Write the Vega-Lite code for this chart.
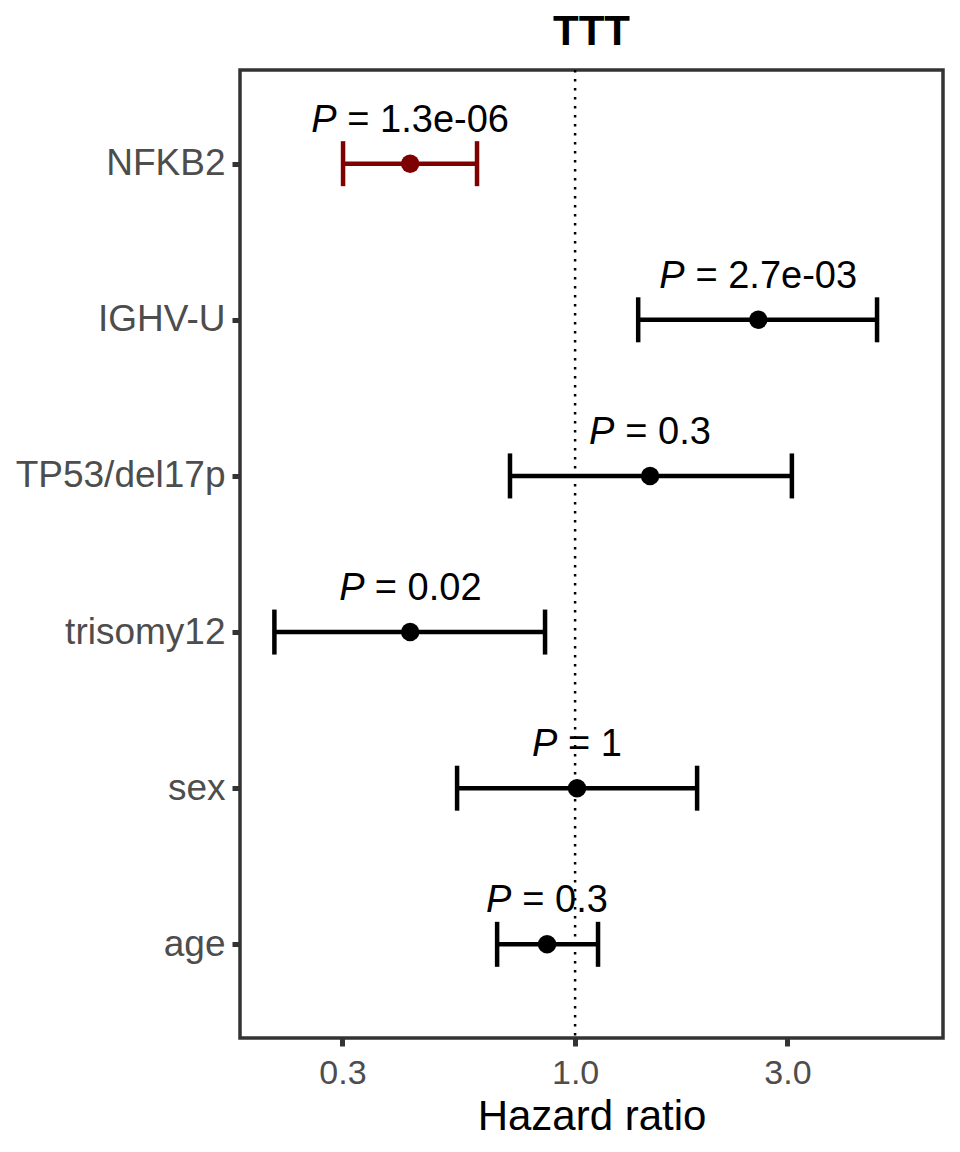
{
  "$schema": "https://vega.github.io/schema/vega-lite/v6.json",
  "autosize": "none",
  "width": 703,
  "height": 968,
  "padding": {"left": 240, "top": 70, "right": 17, "bottom": 114},
  "background": "white",
  "config": {
    "font": "Liberation Sans",
    "view": {"stroke": "#333333", "strokeWidth": 3.5},
    "axis": {"grid": false, "domain": false}
  },
  "title": {
    "text": "TTT",
    "fontSize": 42,
    "fontWeight": "bold",
    "color": "black",
    "anchor": "middle",
    "offset": 15
  },
  "datasets": {
    "hr": [
      {"term": "NFKB2", "hr": 0.426, "low": 0.301, "high": 0.602, "ptext": "= 1.3e-06", "highlight": "yes"},
      {"term": "IGHV-U", "hr": 2.58, "low": 1.386, "high": 4.77, "ptext": "= 2.7e-03", "highlight": "no"},
      {"term": "TP53/del17p", "hr": 1.474, "low": 0.714, "high": 3.07, "ptext": "= 0.3", "highlight": "no"},
      {"term": "trisomy12", "hr": 0.426, "low": 0.211, "high": 0.856, "ptext": "= 0.02", "highlight": "no"},
      {"term": "sex", "hr": 1.01, "low": 0.543, "high": 1.88, "ptext": "= 1", "highlight": "no"},
      {"term": "age", "hr": 0.865, "low": 0.668, "high": 1.126, "ptext": "= 0.3", "highlight": "no"}
    ],
    "ref": [{"ref": 1}]
  },
  "encoding": {
    "y": {
      "field": "term",
      "type": "nominal",
      "sort": ["NFKB2", "IGHV-U", "TP53/del17p", "trisomy12", "sex", "age"],
      "scale": {"type": "point", "padding": 0.6},
      "axis": {
        "title": null,
        "labelFontSize": 37,
        "labelColor": "#4D4D4D",
        "labelLimit": 400,
        "tickColor": "#333333",
        "tickWidth": 5,
        "tickSize": 8,
        "labelPadding": 7
      }
    }
  },
  "layer": [
    {
      "data": {"name": "ref"},
      "mark": {"type": "rule", "color": "black", "strokeWidth": 2.5, "strokeDash": [2.5, 6.5]},
      "encoding": {
        "x": {"field": "ref", "type": "quantitative"},
        "y": null
      }
    },
    {
      "data": {"name": "hr"},
      "mark": {"type": "rule", "strokeWidth": 4.5, "opacity": 1},
      "encoding": {
        "x": {
          "field": "low",
          "type": "quantitative",
          "scale": {"type": "log", "domain": [0.1766, 6.71], "nice": false, "zero": false},
          "axis": {
            "title": "Hazard ratio",
            "titleFontSize": 42,
            "titleFontWeight": "normal",
            "titleColor": "black",
            "titlePadding": 6,
            "values": [0.3, 1, 3],
            "format": ".1f",
            "labelFontSize": 34,
            "labelColor": "#4D4D4D",
            "tickColor": "#333333",
            "tickWidth": 5,
            "tickSize": 8,
            "labelPadding": 10
          }
        },
        "x2": {"field": "high"},
        "color": {
          "field": "highlight",
          "type": "nominal",
          "scale": {"domain": ["yes", "no"], "range": ["#7F0000", "black"]},
          "legend": null
        }
      }
    },
    {
      "data": {"name": "hr"},
      "mark": {"type": "tick", "size": 45, "thickness": 4.5, "orient": "vertical", "opacity": 1},
      "encoding": {
        "x": {"field": "low", "type": "quantitative"},
        "color": {"field": "highlight", "type": "nominal", "legend": null}
      }
    },
    {
      "data": {"name": "hr"},
      "mark": {"type": "tick", "size": 45, "thickness": 4.5, "orient": "vertical", "opacity": 1},
      "encoding": {
        "x": {"field": "high", "type": "quantitative"},
        "color": {"field": "highlight", "type": "nominal", "legend": null}
      }
    },
    {
      "data": {"name": "hr"},
      "mark": {"type": "circle", "size": 340, "opacity": 1},
      "encoding": {
        "x": {"field": "hr", "type": "quantitative"},
        "color": {"field": "highlight", "type": "nominal", "legend": null}
      }
    },
    {
      "data": {"name": "hr"},
      "mark": {"type": "text", "fontSize": 38, "color": "black", "baseline": "alphabetic", "align": "center", "dx": 18, "dy": -32},
      "encoding": {
        "x": {"field": "hr", "type": "quantitative"},
        "text": {"field": "ptext"}
      }
    },
    {
      "data": {"name": "hr"},
      "transform": [{"filter": {"field": "term", "oneOf": ["NFKB2", "IGHV-U"]}}],
      "mark": {"type": "text", "text": "P", "fontSize": 38, "fontStyle": "italic", "color": "black", "baseline": "alphabetic", "align": "left", "dx": -99, "dy": -32},
      "encoding": {
        "x": {"field": "hr", "type": "quantitative"}
      }
    },
    {
      "data": {"name": "hr"},
      "transform": [{"filter": {"field": "term", "oneOf": ["TP53/del17p", "age"]}}],
      "mark": {"type": "text", "text": "P", "fontSize": 38, "fontStyle": "italic", "color": "black", "baseline": "alphabetic", "align": "left", "dx": -61, "dy": -32},
      "encoding": {
        "x": {"field": "hr", "type": "quantitative"}
      }
    },
    {
      "data": {"name": "hr"},
      "transform": [{"filter": {"field": "term", "equal": "trisomy12"}}],
      "mark": {"type": "text", "text": "P", "fontSize": 38, "fontStyle": "italic", "color": "black", "baseline": "alphabetic", "align": "left", "dx": -71, "dy": -32},
      "encoding": {
        "x": {"field": "hr", "type": "quantitative"}
      }
    },
    {
      "data": {"name": "hr"},
      "transform": [{"filter": {"field": "term", "equal": "sex"}}],
      "mark": {"type": "text", "text": "P", "fontSize": 38, "fontStyle": "italic", "color": "black", "baseline": "alphabetic", "align": "left", "dx": -45, "dy": -32},
      "encoding": {
        "x": {"field": "hr", "type": "quantitative"}
      }
    }
  ]
}
